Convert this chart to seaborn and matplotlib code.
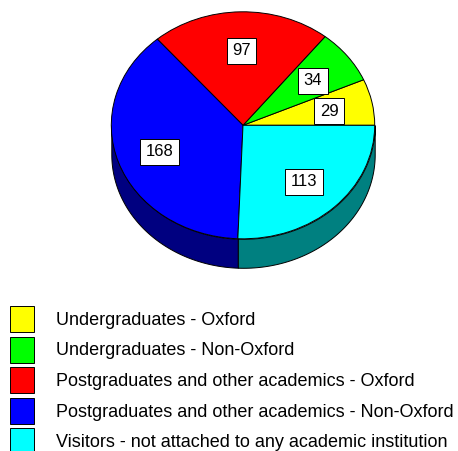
import numpy as np
import matplotlib
matplotlib.use("Agg")
import matplotlib.pyplot as plt
import seaborn as sns

groups = [
    "Undergraduates - Oxford",
    "Undergraduates - Non-Oxford",
    "Postgraduates and other academics - Oxford",
    "Postgraduates and other academics - Non-Oxford",
    "Visitors - not attached to any academic institution",
]
counts = [29, 34, 97, 168, 113]
face_colors = ["#ffff00", "#00ff00", "#ff0000", "#0000ff", "#00ffff"]
# side wall shades, only the two slices on the front have a visible wall
wall_colors = {3: "#000080", 4: "#008080"}

sns.set_style("white")
plt.rcParams["font.family"] = ["Liberation Sans", "DejaVu Sans"]

W, H = 458, 451
fig = plt.figure(figsize=(W / 100, H / 100), dpi=100)

# pie centre is at about (243, 125) px, radii 132 x 113.5, wall 29 px deep
rx, ry, depth = 131.7, 113.5, 29
ax = fig.add_axes([(243 - rx) / W, (H - 125.3 - ry - depth) / H, 2 * rx / W, (2 * ry + depth) / H])

total = sum(counts)
wedges, _, value_texts = ax.pie(
    counts,
    colors=sns.color_palette(face_colors),
    startangle=0,
    counterclock=True,
    autopct=lambda p: str(int(round(p * total / 100))),
    pctdistance=0.67,
    wedgeprops={"edgecolor": "black", "linewidth": 0.7, "zorder": 3},
    textprops={"fontsize": 12, "color": "black", "zorder": 5},
)
for t in value_texts:
    x, y = t.get_position()
    t.set_position((x, y - 0.015))
    t.set_bbox({"boxstyle": "square,pad=0.33", "facecolor": "white", "edgecolor": "black", "linewidth": 0.7})

ax.set_aspect("auto")
ax.set_xlim(-1, 1)
ax.set_ylim(-1 - depth / ry, 1)

# side wall: follow the slice angles along the lower half of the ellipse
edges = np.cumsum([0] + counts) / total * 360
for i, shade in wall_colors.items():
    start = max(edges[i], 180)
    theta = np.radians(np.linspace(start, edges[i + 1], 80))
    ax.fill_between(np.cos(theta), np.sin(theta), np.sin(theta) - depth / ry,
                    facecolor=shade, edgecolor="black", linewidth=0.7, zorder=2, clip_on=False)

fig.legend(
    wedges, groups,
    loc="upper left",
    bbox_to_anchor=(5 / W, 1 - 300.6 / H),
    frameon=False,
    fontsize=13,
    labelcolor="black",
    handlelength=1.33,
    handleheight=1.845,
    handletextpad=1.22,
    labelspacing=0.25,
    borderpad=0.3,
    borderaxespad=0,
)

fig.savefig("out.png", dpi=100, facecolor="white")
